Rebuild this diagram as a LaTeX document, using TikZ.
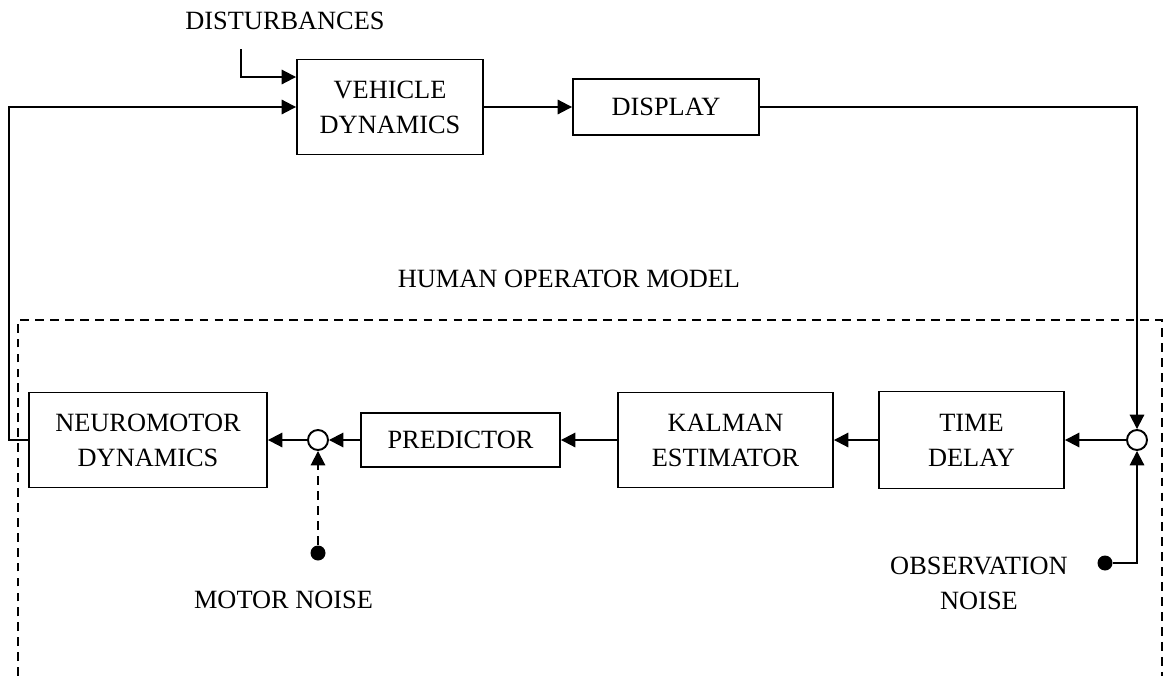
\documentclass[tikz,border=0pt]{standalone}
\usepackage{fontspec}
\setmainfont{Liberation Serif}
\usepackage{tikz}
\usetikzlibrary{arrows.meta}

\begin{document}
\begin{tikzpicture}[x=0.02cm, y=-0.02cm, line width=1.1pt,
		every node/.style={font=\fontsize{15}{19.9}\selectfont, align=center}]
		\useasboundingbox (0,0) rectangle (1167,676);
		
		\begin{scope}[every node/.style={rectangle,draw,line width=1.1pt,align=center,
				font=\fontsize{15}{19.9}\selectfont, inner sep=0pt}]
			\node[minimum width=3.72cm, minimum height=1.9cm] (VD) at (390,107) {VEHICLE\\DYNAMICS};
			\node[minimum width=3.72cm, minimum height=1.12cm] (D) at (666,107) {DISPLAY};
			\node[minimum width=4.76cm, minimum height=1.9cm] (NM) at (148,440) {NEUROMOTOR\\DYNAMICS};
			\node[minimum width=3.98cm, minimum height=1.08cm] (P) at (460.5,440) {PREDICTOR};
			\node[minimum width=4.3cm, minimum height=1.9cm] (KE) at (725.5,440) {KALMAN\\ESTIMATOR};
			\node[minimum width=3.7cm, minimum height=1.94cm] (TD) at (971.5,440) {TIME\\DELAY};
		\end{scope}
		
		\tikzstyle{sumj} = [circle,draw,fill=white,line width=1.1pt,minimum size=0.4cm,inner sep=0pt]
		\tikzstyle{dot} = [circle,fill=black,minimum size=0.3cm,inner sep=0pt]
		\node[sumj] (S1) at (318,440) {};
		\node[sumj] (S2) at (1137,440) {};
		\node[dot] (MN) at (318,553) {};
		\node[dot] (ON) at (1105,563) {};
		
		\node (DIST) at (285,21) {DISTURBANCES};
		\node (HOM) at (569,279) {HUMAN OPERATOR MODEL};
		\node (MNT) at (283.5,600) {MOTOR NOISE};
		\node (ONT) at (979,583) {OBSERVATION\\NOISE};
		\coordinate (dist) at (241,49);
		
		\tikzstyle{arrow} = [line width=1.1pt,-{Triangle[length=8.2pt,width=8.2pt]},color=black]
		\draw [arrow] (dist) |- ([yshift=0.6cm]VD.west);
		\draw [arrow] (NM.west) -- ++(-19,0) |- (VD.west);
		\draw [arrow] (VD.east) -- (D.west);
		\draw [arrow] (D.east) -| (S2.north);
		\draw [arrow] (S2.west) -- (TD.east);
		\draw [arrow] (TD.west) -- (KE.east);
		\draw [arrow] (KE.west) -- (P.east);
		\draw [arrow] (P.west) -- (S1.east);
		\draw [arrow] (S1.west) -- (NM.east);
		\draw [arrow] (ON) -| (S2.south);
		\draw [arrow, dash pattern=on 5pt off 3.5pt] (MN) -- (S1.south);
		
		% human operator boundary
		\draw [dash pattern=on 5pt off 3.5pt] (18,676) |- (1162,320) -- (1162,676);
		
	\end{tikzpicture}
\end{document}
